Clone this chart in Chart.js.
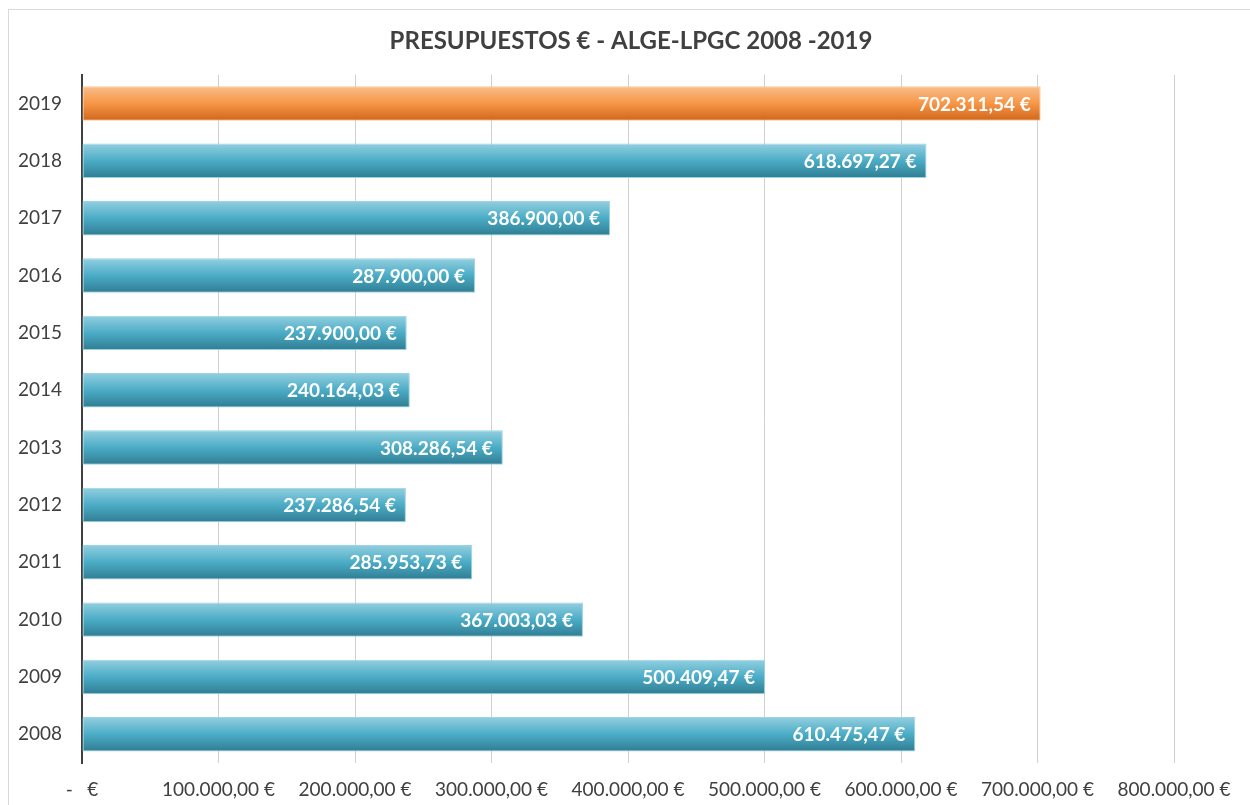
<!DOCTYPE html>
<html>
<head>
<meta charset="utf-8">
<script src="https://cdn.jsdelivr.net/npm/chart.js@4.4.1/dist/chart.umd.min.js"></script>
<style>
    html, body { margin: 0; padding: 0; background: #fff; }
    #wrap { position: relative; width: 1250px; height: 805px; overflow: hidden; }
    #frame { position: absolute; left: 8px; top: 9px; width: 1300px; height: 900px;
             border-left: 1px solid #d9d9d9; border-top: 1px solid #d9d9d9; box-sizing: border-box; }
    canvas { position: absolute; left: 0; top: 0; }
</style>
</head>
<body>
<div id="wrap">
    <div id="frame"></div>
    <canvas id="chart" width="1250" height="805"></canvas>
</div>
<script>
const years = ['2019', '2018', '2017', '2016', '2015', '2014', '2013', '2012', '2011', '2010', '2009', '2008'];
const budgets = [702311.54, 618697.27, 386900.00, 287900.00, 237900.00, 240164.03,
                 308286.54, 237286.54, 285953.73, 367003.03, 500409.47, 610475.47];
const xTicks = [0, 100000, 200000, 300000, 400000, 500000, 600000, 700000, 800000];

const FONT = 'Lato, "Open Sans", sans-serif';

// 702311.54 -> "702.311,54 €"
function euro(v) {
    let parts = v.toFixed(2).split('.');
    let ent = parts[0].replace(/\B(?=(\d{3})+(?!\d))/g, '.');
    return ent + ',' + parts[1] + ' €';
}

function barFill(context) {
    const chart = context.chart;
    const i = context.dataIndex;
    const orange = i === 0;
    if (!chart.chartArea || !chart.scales.y) {
        return orange ? '#f79646' : '#4bacc6';
    }
    const y = chart.scales.y;
    const step = Math.abs(y.getPixelForValue(1) - y.getPixelForValue(0));
    const half = step * 0.6 / 2;
    const c = y.getPixelForValue(i);
    const g = chart.ctx.createLinearGradient(0, c - half, 0, c + half);
    if (orange) {
        g.addColorStop(0, '#f9be8c');
        g.addColorStop(0.5, '#f79646');
        g.addColorStop(1, '#d0661a');
    } else {
        g.addColorStop(0, '#93cfe0');
        g.addColorStop(0.5, '#4bacc6');
        g.addColorStop(1, '#2f7d92');
    }
    return g;
}

// value labels inside the end of each bar
const insideLabels = {
    id: 'insideLabels',
    afterDatasetsDraw(chart) {
        const ctx = chart.ctx;
        const meta = chart.getDatasetMeta(0);
        ctx.save();
        ctx.font = 'bold 19px ' + FONT;
        ctx.fillStyle = '#ffffff';
        ctx.textAlign = 'right';
        ctx.textBaseline = 'middle';
        meta.data.forEach(function (bar, i) {
            ctx.fillText(euro(budgets[i]), bar.x - 10, bar.y + 1);
        });
        ctx.restore();
    }
};

const ctx = document.getElementById('chart').getContext('2d');
new Chart(ctx, {
    type: 'bar',
    data: {
        labels: years,
        datasets: [{
            data: budgets,
            backgroundColor: barFill,
            borderColor: budgets.map((v, i) => i === 0 ? '#fac496' : '#9ad3e2'),
            borderWidth: 1,
            borderSkipped: false,
            categoryPercentage: 0.6,
            barPercentage: 1.0
        }]
    },
    options: {
        indexAxis: 'y',
        responsive: false,
        animation: false,
        layout: {
            padding: { left: 12, right: 0, top: 0, bottom: 0 }
        },
        plugins: {
            legend: { display: false },
            tooltip: { enabled: false },
            title: {
                display: true,
                text: 'PRESUPUESTOS € - ALGE-LPGC 2008 -2019',
                color: '#404040',
                font: { family: FONT, size: 24, weight: 'bold', lineHeight: 1.2 },
                padding: { top: 27, bottom: 19 }
            }
        },
        scales: {
            x: {
                min: 0,
                max: 800000,
                afterBuildTicks: function (scale) {
                    scale.ticks = xTicks.map(v => ({ value: v }));
                },
                afterFit: function (scale) {
                    scale.height = 42;
                },
                ticks: {
                    color: '#404040',
                    font: { family: FONT, size: 19 },
                    padding: 15,
                    maxRotation: 0,
                    autoSkip: false,
                    callback: function (v) {
                        return v === 0 ? '-   €' : euro(v);
                    }
                },
                grid: {
                    color: '#d0d0d0',
                    lineWidth: 1,
                    drawTicks: false
                },
                border: { display: false }
            },
            y: {
                afterFit: function (scale) {
                    scale.width = 70;
                },
                ticks: {
                    color: '#404040',
                    font: { family: FONT, size: 19 },
                    padding: 20
                },
                grid: { display: false, drawTicks: false },
                border: { display: true, color: '#404040', width: 2 }
            },
            // empty right-hand axis, only to keep room on the right of the plot
            yRight: {
                type: 'linear',
                position: 'right',
                afterFit: function (scale) {
                    scale.width = 76;
                },
                ticks: { display: false },
                grid: { display: false, drawTicks: false },
                border: { display: false }
            }
        }
    },
    plugins: [insideLabels]
});
</script>
</body>
</html>
